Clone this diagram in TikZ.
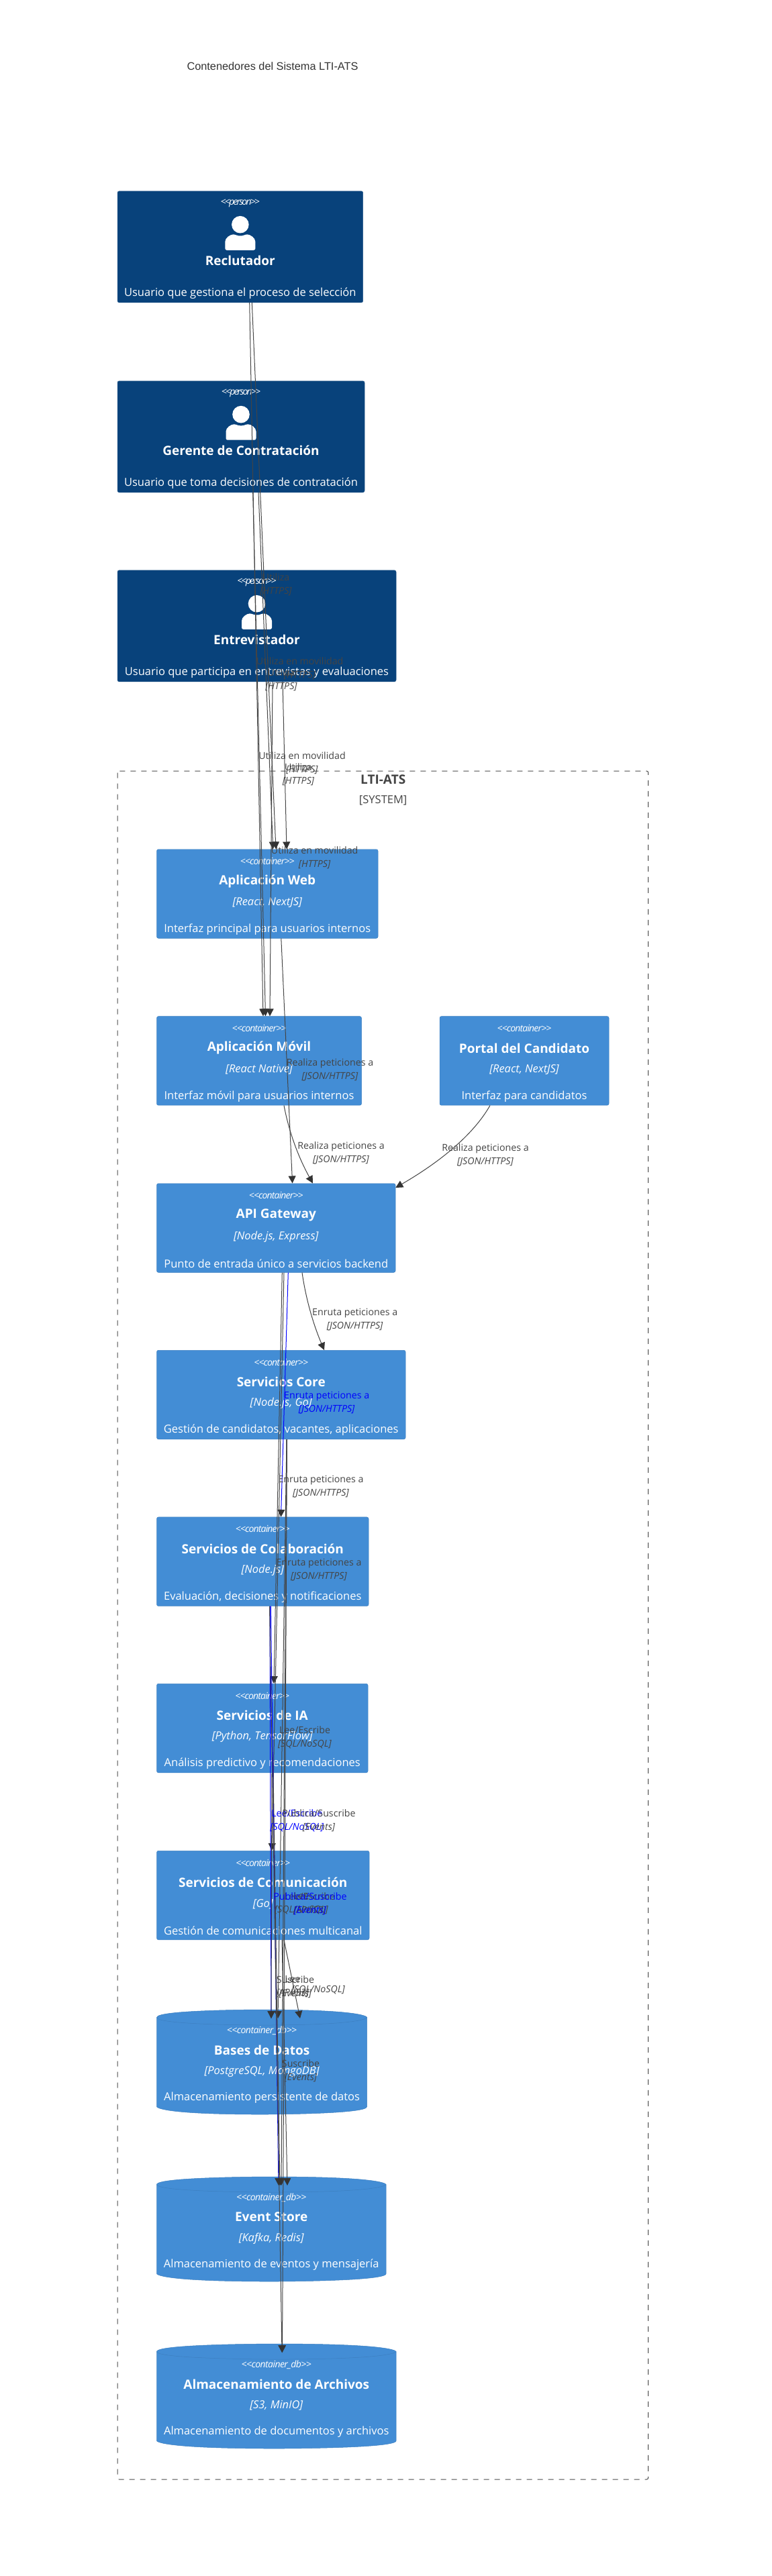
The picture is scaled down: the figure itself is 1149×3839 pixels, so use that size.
\documentclass[tikz,border=0pt]{standalone}
\usepackage{fontspec}
\setmainfont{Open Sans}
\newfontfamily\headfont{Liberation Sans}
\usetikzlibrary{arrows.meta,calc,positioning}
\definecolor{personblue}{HTML}{08427B}
\definecolor{containerblue}{HTML}{438DD5}
\definecolor{reltext}{HTML}{444444}
\definecolor{reltip}{HTML}{333333}
\tikzset{
	personbox/.style={rectangle,fill=personblue,draw=personblue!90!white,line width=0.5pt,rounded corners=2.5pt,minimum height=166pt,inner sep=0pt},
	containerbox/.style={rectangle,fill=containerblue,draw=containerblue!90!black,line width=0.5pt,rounded corners=2.5pt,minimum height=132.5pt,inner sep=0pt},
	dbbox/.style={fill=containerblue,draw=containerblue!90!black,line width=0.5pt},
	dbarea/.style={rectangle,inner sep=0pt,minimum height=156pt},
	stereotype/.style={text=white,inner sep=0pt,font=\fontsize{14}{16}\selectfont\itshape},
	boxtitle/.style={text=white,inner sep=0pt,font=\fontsize{19}{21}\selectfont\bfseries},
	boxtech/.style={text=white,inner sep=0pt,font=\fontsize{16.4}{18}\selectfont\itshape},
	boxdesc/.style={text=white,inner sep=0pt,font=\fontsize{16.5}{18}\selectfont},
	rel/.style={draw=reltext,line width=1pt,-{Triangle[length=11pt,width=11pt,color=reltip]}},
	relalt/.style={rel,draw=blue},
	rellabel/.style={text=reltext,inner sep=0pt,align=center,font=\fontsize{14.2}{20}\selectfont},
	rellabelalt/.style={rellabel,text=blue},
	personicon/.pic={
		\fill[white] (0,50.1) circle (12.8);
		\fill[white,rounded corners=2.5pt] (-22.5,88.2) -- (-22.5,78) .. controls (-22.5,70) and (-15,64.8) .. (-8,64.8) .. controls (-3,67.2) and (3,67.2) .. (8,64.8) .. controls (15,64.8) and (22.5,70) .. (22.5,78) -- (22.5,88.2) -- cycle;
	}
}
\begin{document}
\begin{tikzpicture}[x=1pt,y=-1pt]
	\useasboundingbox[fill=white] (0,0) rectangle (1149,3839);

	\node[text=reltip,inner sep=0pt,font=\headfont\fontsize{16.3}{18}\selectfont] (diagramtitle) at (406,98.7) {Contenedores del Sistema LTI-ATS};

	% Personas
	\foreach \bname/\bx/\bw/\by/\btitle/\bdesc in {
			reclutador/357.85/365.7/284.6/{Reclutador}/{Usuario que gestiona el proceso de selección},
			gerente/359/368/567.5/{Gerente de Contratación}/{Usuario que toma decisiones de contratación},
			entrevistador/382.5/415/849.6/{Entrevistador}/{Usuario que participa en entrevistas y evaluaciones}}{
			\node[personbox,minimum width=\bw pt,anchor=north] (\bname) at (\bx,\by) {};
			\node[stereotype] (\bname-st) at ([yshift=-18pt]\bname.north) {\addfontfeature{LetterSpace=-13}<{}<person>{}>};
			\pic at (\bname.north) {personicon};
			\node[boxtitle] (\bname-ti) at ([yshift=-103.5pt]\bname.north) {\btitle};
			\node[boxdesc] (\bname-de) at ([yshift=-152.5pt]\bname.north) {\bdesc};
		}

	% LTI-ATS
	\draw[draw=black!70,line width=1pt,dash pattern=on 8pt off 8pt,rounded corners=2.5pt] (175,1149) rectangle (965.7,3695);
	\node[text=reltext,inner sep=0pt,font=\fontsize{19}{21}\selectfont\bfseries] (systemname) at (570.7,1162) {LTI-ATS};
	\node[text=reltext,inner sep=0pt,font=\fontsize{16.5}{18}\selectfont] (systemtype) at (570.7,1193) {[SYSTEM]};

	% Contenedores
	\foreach \bname/\bx/\bw/\by/\btitle/\btech/\bdesc in {
			web/398.25/329.5/1265.5/{Aplicación Web}/{[React, NextJS]}/{Interfaz principal para usuarios internos},
			movil/386/305/1514.4/{Aplicación Móvil}/{[React Native]}/{Interfaz móvil para usuarios internos},
			portal/781/252/1514.4/{Portal del Candidato}/{[React, NextJS]}/{Interfaz para candidatos},
			api/411.25/355.5/1763.5/{API Gateway}/{[Node.js, Express]}/{Punto de entrada único a servicios backend},
			core/418.75/370.5/2012/{Servicios Core}/{[Node.js, Go]}/{Gestión de candidatos, vacantes, aplicaciones},
			colab/391.25/315.5/2260.7/{Servicios de Colaboración}/{[Node.js]}/{Evaluación, decisiones y notificaciones},
			ia/390.75/314.5/2509/{Servicios de IA}/{[Python, TensorFlow]}/{Análisis predictivo y recomendaciones},
			comm/391.75/316.5/2758/{Servicios de Comunicación}/{[Go]}/{Gestión de comunicaciones multicanal}}{
			\node[containerbox,minimum width=\bw pt,anchor=north] (\bname) at (\bx,\by) {};
			\node[stereotype] (\bname-st) at ([yshift=-18pt]\bname.north) {\addfontfeature{LetterSpace=-6}<{}<container>{}>};
			\node[boxtitle] (\bname-ti) at ([yshift=-47.5pt]\bname.north) {\btitle};
			\node[boxtech] (\bname-te) at ([yshift=-79.5pt]\bname.north) {\btech};
			\node[boxdesc] (\bname-de) at ([yshift=-119.5pt]\bname.north) {\bdesc};
		}

	% Almacenes
	\foreach \bname/\bx/\bw/\by/\btitle/\btech/\bdesc in {
			bases/390.1/313.2/2995/{Bases de Datos}/{[PostgreSQL, MongoDB]}/{Almacenamiento persistente de datos},
			eventos/404.25/341.5/3244/{Event Store}/{[Kafka, Redis]}/{Almacenamiento de eventos y mensajería},
			archivos/411.75/356.5/3493/{Almacenamiento de Archivos}/{[S3, MinIO]}/{Almacenamiento de documentos y archivos}}{
			\draw[dbbox] ({\bx-\bw/2},\by+11.5) .. controls +(0,-11.5) and +(0,0) .. ++(\bw/2,-11.5) .. controls +(\bw/2,0) and +(0,0) .. ++(\bw/2,11.5) -- ++(0,133) .. controls +(0,11.5) and +(0,0) .. ++(-\bw/2,11.5) .. controls +(-\bw/2,0) and +(0,0) .. ++(-\bw/2,-11.5) -- cycle;
			\draw[draw=containerblue!90!black,line width=0.5pt] ({\bx-\bw/2},\by+11.5) .. controls +(0,11.5) and +(0,0) .. ++(\bw/2,11.5) .. controls +(\bw/2,0) and +(0,0) .. ++(\bw/2,-11.5);
			\node[dbarea,minimum width=\bw pt,anchor=north] (\bname) at (\bx,\by) {};
			\node[stereotype] (\bname-st) at ([yshift=-31pt]\bname.north) {\addfontfeature{LetterSpace=-4}<{}<container\_db>{}>};
			\node[boxtitle] (\bname-ti) at ([yshift=-60pt]\bname.north) {\btitle};
			\node[boxtech] (\bname-te) at ([yshift=-92pt]\bname.north) {\btech};
			\node[boxdesc] (\bname-de) at ([yshift=-131pt]\bname.north) {\bdesc};
		}

	% Personas a aplicaciones
	\draw[rel] ([xshift=17.45pt]reclutador.south) -- ([xshift=12.75pt]web.north);
	\draw[rel] ([xshift=13.85pt]reclutador.south) -- ([xshift=6pt]movil.north);
	\draw[rel] ([xshift=26pt]gerente.south) -- ([xshift=8.45pt]web.north);
	\draw[rel] ([xshift=17.7pt]gerente.south) -- ([xshift=9.5pt]movil.north);
	\draw[rel] ([xshift=38.5pt]entrevistador.south) -- ([xshift=28.75pt]web.north);
	\draw[rel] ([xshift=23.5pt]entrevistador.south) -- ([xshift=16pt]movil.north);

	% Aplicaciones a API
	\draw[rel] ([xshift=20.55pt]web.south) -- ([xshift=24.35pt]api.north);
	\draw[rel] ([xshift=37pt]movil.south) .. controls +(7.2,38.7) and +(-21.5,-38.7) .. ([xshift=54.75pt]api.north);
	\draw[rel] ([xshift=-51pt]portal.south) .. controls +(-23.3,41) and +(70.7,-41) .. ([yshift=-6.5pt]api.north east);

	% API a servicios
	\draw[rel] ([xshift=38.75pt]api.south) .. controls +(5.5,38.5) and +(-16.5,-38.8) .. ([xshift=64.25pt]core.north);
	\draw[relalt] ([xshift=18.05pt]api.south) -- ([xshift=27.25pt]colab.north);
	\draw[rel] ([xshift=9.05pt]api.south) -- ([xshift=17.25pt]ia.north);
	\draw[rel] ([xshift=11.75pt]api.south) -- ([xshift=13.25pt]comm.north);

	% Servicios a almacenes
	\draw[rel] ([xshift=8.25pt]core.south) -- ([xshift=23.9pt,yshift=-13pt]bases.north);
	\draw[rel] ([xshift=8.25pt]core.south) -- ([xshift=14.75pt,yshift=-13pt]eventos.north);
	\draw[rel] ([xshift=8.75pt]core.south) -- ([xshift=8.75pt,yshift=-13pt]archivos.north);
	\draw[relalt] ([xshift=10.75pt]colab.south) -- ([xshift=13.9pt,yshift=-13pt]bases.north);
	\draw[relalt] ([xshift=12.05pt]colab.south) -- ([xshift=10.75pt,yshift=-13pt]eventos.north);
	\draw[rel] ([xshift=10.25pt]colab.south) -- ([xshift=8.25pt,yshift=-13pt]archivos.north);
	\draw[rel] ([xshift=14.25pt]ia.south) -- ([xshift=13.9pt,yshift=-13pt]bases.north);
	\draw[rel] ([xshift=16.25pt]ia.south) -- ([xshift=12.75pt,yshift=-13pt]eventos.north);
	\draw[rel] ([xshift=31.25pt]comm.south) -- ([xshift=56.9pt,yshift=-13pt]bases.north);
	\draw[rel] ([xshift=28.25pt]comm.south) -- ([xshift=23.75pt,yshift=-13pt]eventos.north);

	% Etiquetas
	\node[rellabel] (lblrecweb) at (411,871) {Utiliza\\\textit{[HTTPS]}};
	\node[rellabel] (lblrecmov) at (446.7,996) {Utiliza en movilidad\\\textit{[HTTPS]}};
	\node[rellabel] (lblgerweb) at (419,1013) {Utiliza\\\textit{[HTTPS]}};
	\node[rellabel] (lblgermov) at (450,1137.5) {Utiliza en movilidad\\\textit{[HTTPS]}};
	\node[rellabel] (lblentweb) at (444.5,1154.3) {Utiliza\\\textit{[HTTPS]}};
	\node[rellabel] (lblentmov) at (468.7,1278.3) {Utiliza en movilidad\\\textit{[HTTPS]}};
	\node[rellabel] (lblwebapi) at (491.5,1594) {Realiza peticiones a\\\textit{[JSON/HTTPS]}};
	\node[rellabel] (lblmovapi) at (508,1718) {Realiza peticiones a\\\textit{[JSON/HTTPS]}};
	\node[rellabel] (lblporapi) at (723,1721) {Realiza peticiones a\\\textit{[JSON/HTTPS]}};
	\node[rellabel] (lblapicore) at (528.7,1966.8) {Enruta peticiones a\\\textit{[JSON/HTTPS]}};
	\node[rellabelalt] (lblapicolab) at (486.7,2091) {Enruta peticiones a\\\textit{[JSON/HTTPS]}};
	\node[rellabel] (lblapiia) at (478,2215.5) {Enruta peticiones a\\\textit{[JSON/HTTPS]}};
	\node[rellabel] (lblapicomm) at (475,2340) {Enruta peticiones a\\\textit{[JSON/HTTPS]}};
	\node[rellabel] (lblcorebd) at (454,2589) {Lee/Escribe\\\textit{[SQL/NoSQL]}};
	\node[rellabelalt] (lblcolabbd) at (442.3,2713) {Lee/Escribe\\\textit{[SQL/NoSQL]}};
	\node[rellabel] (lblcoreev) at (475,2713) {Publica/Suscribe\\\textit{[Events]}};
	\node[rellabel] (lblcorear) at (461,2837) {Lee/Escribe\\\textit{[API/S3]}};
	\node[rellabel] (lbliabd) at (449,2837) {Lee\\\textit{[SQL/NoSQL]}};
	\node[rellabelalt] (lblcolabev) at (462,2837) {Publica/Suscribe\\\textit{[Events]}};
	\node[rellabel] (lblcolabar) at (436,2961) {Lee\\\textit{[API/S3]}};
	\node[rellabel] (lbliaev) at (440,2961) {Suscribe\\\textit{[Events]}};
	\node[rellabel] (lblcommbd) at (474,2961) {\mbox{}\\\textit{[SQL/NoSQL]}};
	\node[rellabel] (lblcommev) at (448,3086) {Suscribe\\\textit{[Events]}};
\end{tikzpicture}
\end{document}
